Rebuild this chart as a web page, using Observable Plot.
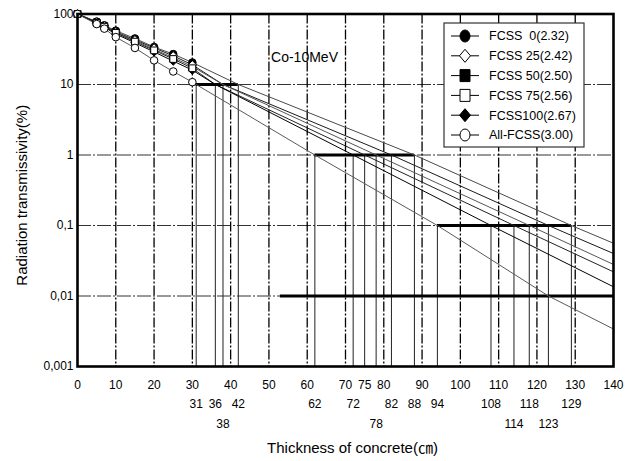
<!DOCTYPE html>
<html><head><meta charset="utf-8">
<script src="https://cdn.jsdelivr.net/npm/d3@7"></script>
<script src="https://cdn.jsdelivr.net/npm/@observablehq/plot@0.6"></script>
<style>body{margin:0;background:#fff} svg{display:block}</style>
</head><body><div id="chart"></div>
<script>
// ---- data ----
const seriesNames = ["FCSS  0(2.32)", "FCSS 25(2.42)", "FCSS 50(2.50)", "FCSS 75(2.56)", "FCSS100(2.67)", "All-FCSS(3.00)"];
const measX   = [0, 5, 7, 10, 15, 20, 25, 30];
const fcss0   = [100, 78, 69, 58, 45, 34, 27, 20.5];
const fcss25  = [100, 77, 68, 56, 43, 33, 25.5, 19];
const fcss50  = [100, 76, 67, 55, 42, 31.5, 24, 18];
const fcss75  = [100, 75, 66, 54, 40.5, 30.5, 23, 17];
const fcss100 = [100, 74, 65, 52, 39, 29, 21.5, 16];
const fcssAll = [100, 72, 62, 47, 33, 22, 15.3, 10.8];
// thickness (cm) at which each series reaches 10 %, 1 %, 0.1 %, 0.01 %
const reach10  = [42, 38, 38, 36, 36, 31];
const reach1   = [88, 82, 78, 75, 72, 62];
const reach01  = [129, 123, 118, 114, 108, 94];
const reach001 = [null, null, null, null, null, 123];
const at140    = [0.056, 0.040, 0.028, 0.022, 0.0135, 0.0034];
// marked transmission levels (thick segments)
const levelY    = [10, 1, 0.1, 0.01];
const levelFrom = [31, 62, 94, 53];
const levelTo   = [42, 88, 129, 140];
// drop lines
const drop10 = [31, 36, 38, 42];
const drop1  = [62, 72, 75, 78, 82, 88];
const drop01 = [94, 108, 114, 118, 123, 129];
// ticks
const xTicksRow1 = [0, 10, 20, 30, 40, 50, 60, 70, 75, 80, 90, 100, 110, 120, 130, 140];
const xTicksRow2 = [31, 36, 42, 62, 72, 82, 88, 94, 108, 118, 129];
const xTicksRow3 = [38, 78, 114, 123];
const xGrid = [10, 20, 30, 40, 50, 60, 70, 80, 90, 100, 110, 120, 130];
const yTicks = [100, 10, 1, 0.1, 0.01, 0.001];
const yTickLabels = ["100", "10", "1", "0,1", "0,01", "0,001"];
const yGrid = [10, 1, 0.1, 0.01];

// ---- styles ----
const lineColors = ["#4a4a4a", "#1a1a1a", "#555", "#222", "#000", "#5a5a5a"];
const symbolShapes = ["circle", "diamond2", "square", "square", "diamond2", "circle"];
const filledSeries = [true, false, true, false, true, false];

// ---- build tables ----
const measured = [fcss0, fcss25, fcss50, fcss75, fcss100, fcssAll];
const dots = [];
const curve = [];
seriesNames.forEach((name, i) => {
  measX.forEach((x, j) => {
    dots.push({name, x, y: measured[i][j], filled: filledSeries[i]});
    curve.push({name, x, y: measured[i][j]});
  });
  curve.push({name, x: reach10[i], y: 10});
  curve.push({name, x: reach1[i], y: 1});
  curve.push({name, x: reach01[i], y: 0.1});
  if (reach001[i] != null) curve.push({name, x: reach001[i], y: 0.01});
  curve.push({name, x: 140, y: at140[i]});
});
const levels = levelY.map((y, i) => ({y, x1: levelFrom[i], x2: levelTo[i]}));
const drops = [
  ...drop10.map(x => ({x, level: 10})),
  ...drop1.map(x => ({x, level: 1})),
  ...drop01.map(x => ({x, level: 0.1}))
];

const font = "'Liberation Sans', 'Noto Sans CJK KR', sans-serif";

const chart = Plot.plot({
  width: 635, height: 461,
  marginLeft: 77, marginRight: 22, marginTop: 13.5, marginBottom: 95,
  style: {fontFamily: font, fontSize: "12px", background: "white", color: "#000"},
  x: {domain: [0, 140]},
  y: {type: "log", domain: [0.001, 100]},
  color: {domain: seriesNames, range: lineColors},
  symbol: {domain: seriesNames, range: symbolShapes},
  marks: [
    Plot.ruleY(yGrid, {stroke: "#333", strokeWidth: 1, strokeDasharray: "14,2,2,2"}),
    Plot.ruleX(xGrid, {stroke: "#000", strokeWidth: 1.3, strokeDasharray: "10,2,2,2"}),
    Plot.ruleX(drops, {x: "x", y1: 0.001, y2: "level", stroke: "#222", strokeWidth: 1}),
    Plot.ruleY(levels, {y: "y", x1: "x1", x2: "x2", stroke: "#000", strokeWidth: 3}),
    Plot.line(curve, {x: "x", y: "y", z: "name", stroke: "name", strokeWidth: 1}),
    Plot.dot(dots.filter(d => d.filled), {x: "x", y: "y", symbol: "name", r: 3.8, fill: "#000", stroke: "#000", strokeWidth: 1}),
    Plot.dot(dots.filter(d => !d.filled), {x: "x", y: "y", symbol: "name", r: 3.8, fill: "white", stroke: "#000", strokeWidth: 1}),
    Plot.frame({stroke: "#000", strokeWidth: 2.6}),
    Plot.axisX(xTicksRow1, {tickSize: 0, tickPadding: 14, label: null, fontSize: 12}),
    Plot.axisX(xTicksRow2, {tickSize: 0, tickPadding: 33, label: null, fontSize: 12}),
    Plot.axisX(xTicksRow3, {tickSize: 0, tickPadding: 53, label: null, fontSize: 12}),
    Plot.axisY(yTicks, {tickSize: 0, tickPadding: 4, label: null, fontSize: 12,
      tickFormat: v => yTickLabels[yTicks.indexOf(v)]}),
    Plot.text(["Thickness of concrete(㎝)"], {frameAnchor: "bottom", lineAnchor: "middle", dy: 82, dx: 7, fontSize: 15}),
    Plot.text(["Radiation transmissivity(%)"], {frameAnchor: "left", textAnchor: "middle", lineAnchor: "middle", dx: -55, dy: 5, rotate: -90, fontSize: 15}),
    Plot.text(["Co-10MeV"], {frameAnchor: "top", lineAnchor: "middle", dx: -41, dy: 43.5, fontSize: 14})
  ]
});
document.getElementById("chart").appendChild(chart);

// ---- legend (drawn into the same SVG) ----
const svg = d3.select(chart);
const lg = svg.append("g").attr("font-family", font).attr("font-size", 12.5).attr("text-anchor", "start");
lg.append("rect").attr("x", 444).attr("y", 23).attr("width", 140).attr("height", 124)
  .attr("fill", "white").attr("stroke", "#333").attr("stroke-width", 1.2);
const shapePath = {
  circle: "M0,-6A5,6 0 1,1 0,6A5,6 0 1,1 0,-6Z",
  diamond2: "M0,-6.5L5.5,0L0,6.5L-5.5,0Z",
  square: "M-5,-6H5V6H-5Z"
};
seriesNames.forEach((name, i) => {
  const y = 36 + i * 19.8;
  const g = lg.append("g").attr("transform", `translate(0,${y})`);
  g.append("line").attr("x1", 451).attr("x2", 479).attr("stroke", "#000").attr("stroke-width", 1);
  g.append("path").attr("transform", "translate(465,0)").attr("d", shapePath[symbolShapes[i]])
    .attr("fill", filledSeries[i] ? "#000" : "white").attr("stroke", "#000").attr("stroke-width", 1);
  g.append("text").attr("x", 489).attr("dy", "0.35em").attr("text-anchor", "start")
    .style("white-space", "pre").text(name);
});
</script>
</body></html>
